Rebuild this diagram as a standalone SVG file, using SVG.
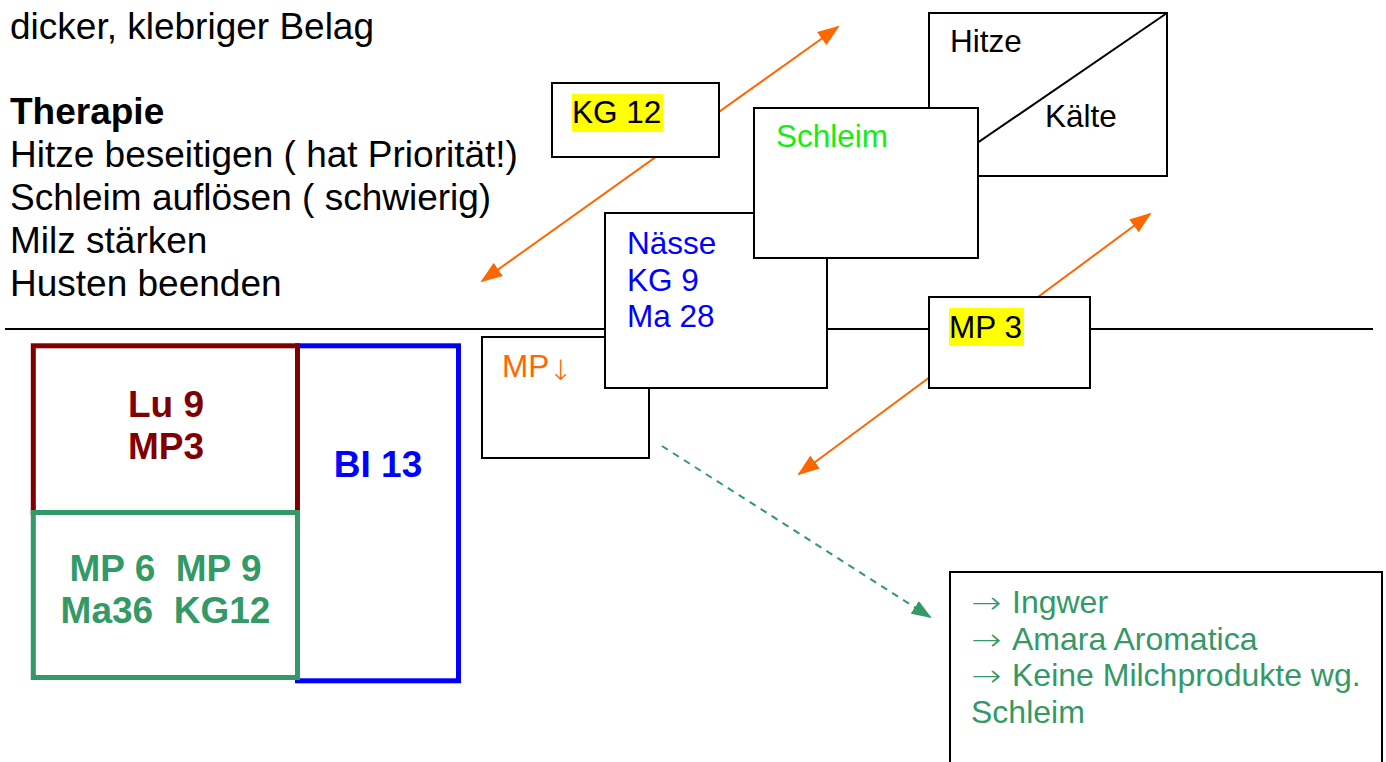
<svg xmlns="http://www.w3.org/2000/svg" width="1386" height="762" viewBox="0 0 1386 762">
<style>
.t{font-family:"Liberation Sans",Arial,sans-serif;}
.lt{font-size:37px;fill:#000;}
.bx{fill:#fff;stroke:#000;stroke-width:2;}
.lb{font-size:31.5px;}
.bd{font-size:37px;font-weight:bold;text-anchor:middle;}
.or{stroke:#ff6600;stroke-width:2;fill:none;}
.hl{fill:#ffff00;}
.ar{font-family:"DejaVu Sans",sans-serif;font-weight:200;}
</style>
<defs>
<marker id="ao" markerWidth="22" markerHeight="16" refX="20" refY="8" orient="auto-start-reverse" markerUnits="userSpaceOnUse">
<path d="M0,0 L22,8 L0,16 Z" fill="#ff6600"/>
</marker>
<marker id="ag" markerWidth="20" markerHeight="15" refX="18" refY="7.5" orient="auto" markerUnits="userSpaceOnUse">
<path d="M0,0 L20,7.5 L0,15 Z" fill="#339966"/>
</marker>
</defs>
<rect width="1386" height="762" fill="#fff"/>

<g id="text-left" class="t lt">
<text x="10" y="39">dicker, klebriger Belag</text>
<text x="10" y="124" font-weight="bold">Therapie</text>
<text x="10" y="167">Hitze beseitigen ( hat Priorität!)</text>
<text x="10" y="210">Schleim auflösen ( schwierig)</text>
<text x="10" y="253">Milz stärken</text>
<text x="10" y="296">Husten beenden</text>
</g>

<g id="connectors">
<line x1="5" y1="329" x2="1373" y2="329" stroke="#000" stroke-width="2"/>
<line class="or" x1="482" y1="281" x2="838" y2="27" marker-start="url(#ao)" marker-end="url(#ao)"/>
<line class="or" x1="799" y1="474" x2="1150" y2="214" marker-start="url(#ao)" marker-end="url(#ao)"/>
<line x1="662" y1="446" x2="930" y2="617" stroke="#339966" stroke-width="2" stroke-dasharray="7,6" marker-end="url(#ag)"/>
</g>

<g id="node-mp-down">
<rect class="bx" x="482" y="337" width="167" height="121"/>
<text class="t lb" x="502" y="377" fill="#ff6600">MP</text>
<text class="ar" x="549" y="380" font-size="28" fill="#ff6600">↓</text>
</g>

<g id="node-naesse">
<rect class="bx" x="605" y="213" width="222" height="175"/>
<text class="t lb" x="627" y="254" fill="#0000ff">Nässe</text>
<text class="t lb" x="627" y="290.5" fill="#0000ff">KG 9</text>
<text class="t lb" x="627" y="327" fill="#0000ff">Ma 28</text>
</g>

<g id="node-hitze-kaelte">
<rect class="bx" x="929" y="13" width="238" height="163"/>
<line x1="1167" y1="13" x2="929" y2="176" stroke="#000" stroke-width="2"/>
<text class="t lb" x="950" y="52" fill="#000">Hitze</text>
<text class="t lb" x="1045" y="127" fill="#000">Kälte</text>
</g>

<g id="node-schleim">
<rect class="bx" x="754" y="108" width="224" height="150"/>
<text class="t lb" x="776" y="147" fill="#11ee11">Schleim</text>
</g>

<g id="node-kg12">
<rect class="bx" x="552" y="83" width="167" height="74"/>
<rect class="hl" x="572" y="94" width="91" height="38"/>
<text class="t lb" x="572" y="123" fill="#000">KG 12</text>
</g>

<g id="node-mp3">
<rect class="bx" x="929" y="297" width="161" height="91"/>
<rect class="hl" x="949" y="308" width="75" height="38"/>
<text class="t lb" x="949" y="338" fill="#000">MP 3</text>
</g>

<g id="node-empfehlung">
<rect class="bx" x="950" y="572" width="432" height="230"/>
<g fill="#339966" class="ar" font-size="30">
<text transform="translate(971,613) scale(1.2,1)">→</text>
<text transform="translate(971,649.5) scale(1.2,1)">→</text>
<text transform="translate(971,686) scale(1.2,1)">→</text>
</g>
<g class="t" font-size="32" fill="#339966">
<text x="1012" y="613">Ingwer</text>
<text x="1012" y="649.5">Amara Aromatica</text>
<text x="1012" y="686">Keine Milchprodukte wg.</text>
<text x="971" y="723">Schleim</text>
</g>
</g>

<g id="node-bl13">
<rect x="297.5" y="345.8" width="161" height="335" fill="none" stroke="#0000ff" stroke-width="5"/>
<text class="t bd" x="378" y="477" fill="#0000ff">BI 13</text>
</g>

<g id="node-lu9">
<rect x="33.3" y="345.8" width="264.2" height="166.7" fill="none" stroke="#800000" stroke-width="5"/>
<text class="t bd" x="166" y="417" fill="#800000">Lu 9</text>
<text class="t bd" x="166" y="459" fill="#800000">MP3</text>
</g>

<g id="node-mp6">
<rect x="33.3" y="512.5" width="264.2" height="165" fill="none" stroke="#339966" stroke-width="5"/>
<text class="t bd" x="165.5" y="581" fill="#339966" xml:space="preserve">MP 6  MP 9</text>
<text class="t bd" x="165.5" y="623" fill="#339966" xml:space="preserve">Ma36  KG12</text>
</g>
</svg>
